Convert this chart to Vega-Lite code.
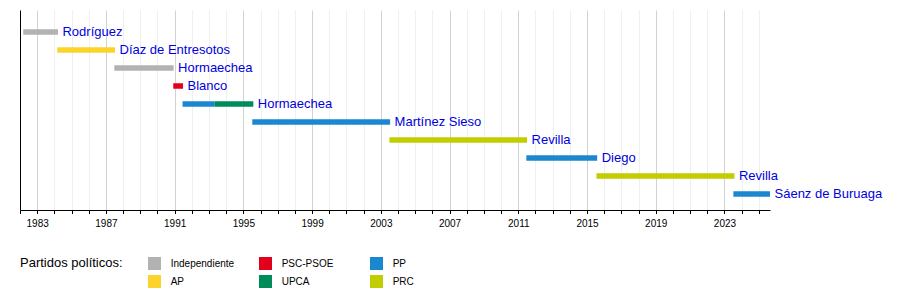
{
  "$schema": "https://vega.github.io/schema/vega-lite/v6.json",
  "autosize": {"type": "none"},
  "padding": {"left": 20, "top": 10, "right": 130, "bottom": 80},
  "width": 750,
  "height": 200,
  "background": "white",
  "config": {
    "view": {"stroke": null},
    "font": "Liberation Sans"
  },
  "data": {
    "values": [
      {"row": 1, "name": "Rodríguez", "party": "Independiente", "start": 1982.19, "end": 1984.21, "label": "Rodríguez"},
      {"row": 2, "name": "Díaz de Entresotos", "party": "AP", "start": 1984.17, "end": 1987.53, "label": "Díaz de Entresotos"},
      {"row": 3, "name": "Hormaechea", "party": "Independiente", "start": 1987.49, "end": 1990.94, "label": "Hormaechea"},
      {"row": 4, "name": "Blanco", "party": "PSC-PSOE", "start": 1990.92, "end": 1991.49, "label": "Blanco"},
      {"row": 5, "name": "Hormaechea", "party": "PP", "start": 1991.46, "end": 1993.31, "label": ""},
      {"row": 5, "name": "Hormaechea", "party": "UPCA", "start": 1993.31, "end": 1995.58, "label": "Hormaechea"},
      {"row": 6, "name": "Martínez Sieso", "party": "PP", "start": 1995.52, "end": 2003.54, "label": "Martínez Sieso"},
      {"row": 7, "name": "Revilla", "party": "PRC", "start": 2003.5, "end": 2011.51, "label": "Revilla"},
      {"row": 8, "name": "Diego", "party": "PP", "start": 2011.47, "end": 2015.59, "label": "Diego"},
      {"row": 9, "name": "Revilla", "party": "PRC", "start": 2015.55, "end": 2023.58, "label": "Revilla"},
      {"row": 10, "name": "Sáenz de Buruaga", "party": "PP", "start": 2023.52, "end": 2025.65, "label": "Sáenz de Buruaga"}
    ]
  },
  "encoding": {
    "y": {
      "field": "row",
      "type": "ordinal",
      "scale": {"paddingInner": 0, "paddingOuter": 0.5556, "align": 0.65},
      "axis": {"labels": false, "ticks": false, "title": null, "grid": false, "domainColor": "#000000", "domainWidth": 1}
    },
    "x": {
      "field": "end",
      "type": "quantitative",
      "scale": {"domain": [1982, 2025.65], "nice": false, "zero": false},
      "axis": {
        "title": null,
        "values": [1982, 1983, 1984, 1985, 1986, 1987, 1988, 1989, 1990, 1991, 1992, 1993, 1994, 1995, 1996, 1997, 1998, 1999, 2000, 2001, 2002, 2003, 2004, 2005, 2006, 2007, 2008, 2009, 2010, 2011, 2012, 2013, 2014, 2015, 2016, 2017, 2018, 2019, 2020, 2021, 2022, 2023, 2024, 2025],
        "format": "d",
        "labelExpr": "indexof([1983,1987,1991,1995,1999,2003,2007,2011,2015,2019,2023], datum.value) >= 0 ? datum.label : ''",
        "labelFontSize": 10,
        "labelColor": "#000000",
        "labelPadding": 5,
        "labelFlush": false,
        "labelOverlap": false,
        "tickSize": 3.5,
        "tickColor": "#000000",
        "domainColor": "#000000",
        "grid": true,
        "gridColor": {"condition": {"test": "indexof([1983,1987,1991,1995,1999,2003,2007,2011,2015,2019,2023], datum.value) >= 0", "value": "#d2d2d2"}, "value": "#efefef"},
        "gridWidth": 1
      }
    }
  },
  "layer": [
    {
      "mark": {"type": "bar", "height": 5.5, "cornerRadius": 0},
      "encoding": {
        "x2": {"field": "start"},
        "color": {
          "field": "party",
          "type": "nominal",
          "scale": {
            "domain": ["Independiente", "PSC-PSOE", "PP", "AP", "UPCA", "PRC"],
            "range": ["#b2b2b2", "#e2001a", "#1a87cf", "#fdd32b", "#008b5b", "#c2cd00"]
          },
          "legend": {
            "title": "Partidos políticos:",
            "titleOrient": "left",
            "titleFontSize": 13,
            "titleFontWeight": "normal",
            "titleColor": "#000000",
            "titlePadding": 25,
            "titleAnchor": "start",
            "titleBaseline": "top",
            "orient": "none",
            "legendX": 0,
            "legendY": 247,
            "direction": "horizontal",
            "columns": 3,
            "gridAlign": "all",
            "columnPadding": 24,
            "rowPadding": 5,
            "symbolType": "square",
            "symbolSize": 169,
            "symbolStrokeWidth": 0,
            "symbolOpacity": 1,
            "labelFontSize": 10,
            "labelColor": "#000000",
            "labelOffset": 9.7
          }
        }
      }
    },
    {
      "transform": [{"filter": "datum.label != ''"}],
      "mark": {"type": "text", "align": "left", "baseline": "middle", "dx": 4.5, "fontSize": 13, "color": "#0000dd"},
      "encoding": {
        "text": {"field": "label"}
      }
    }
  ]
}
